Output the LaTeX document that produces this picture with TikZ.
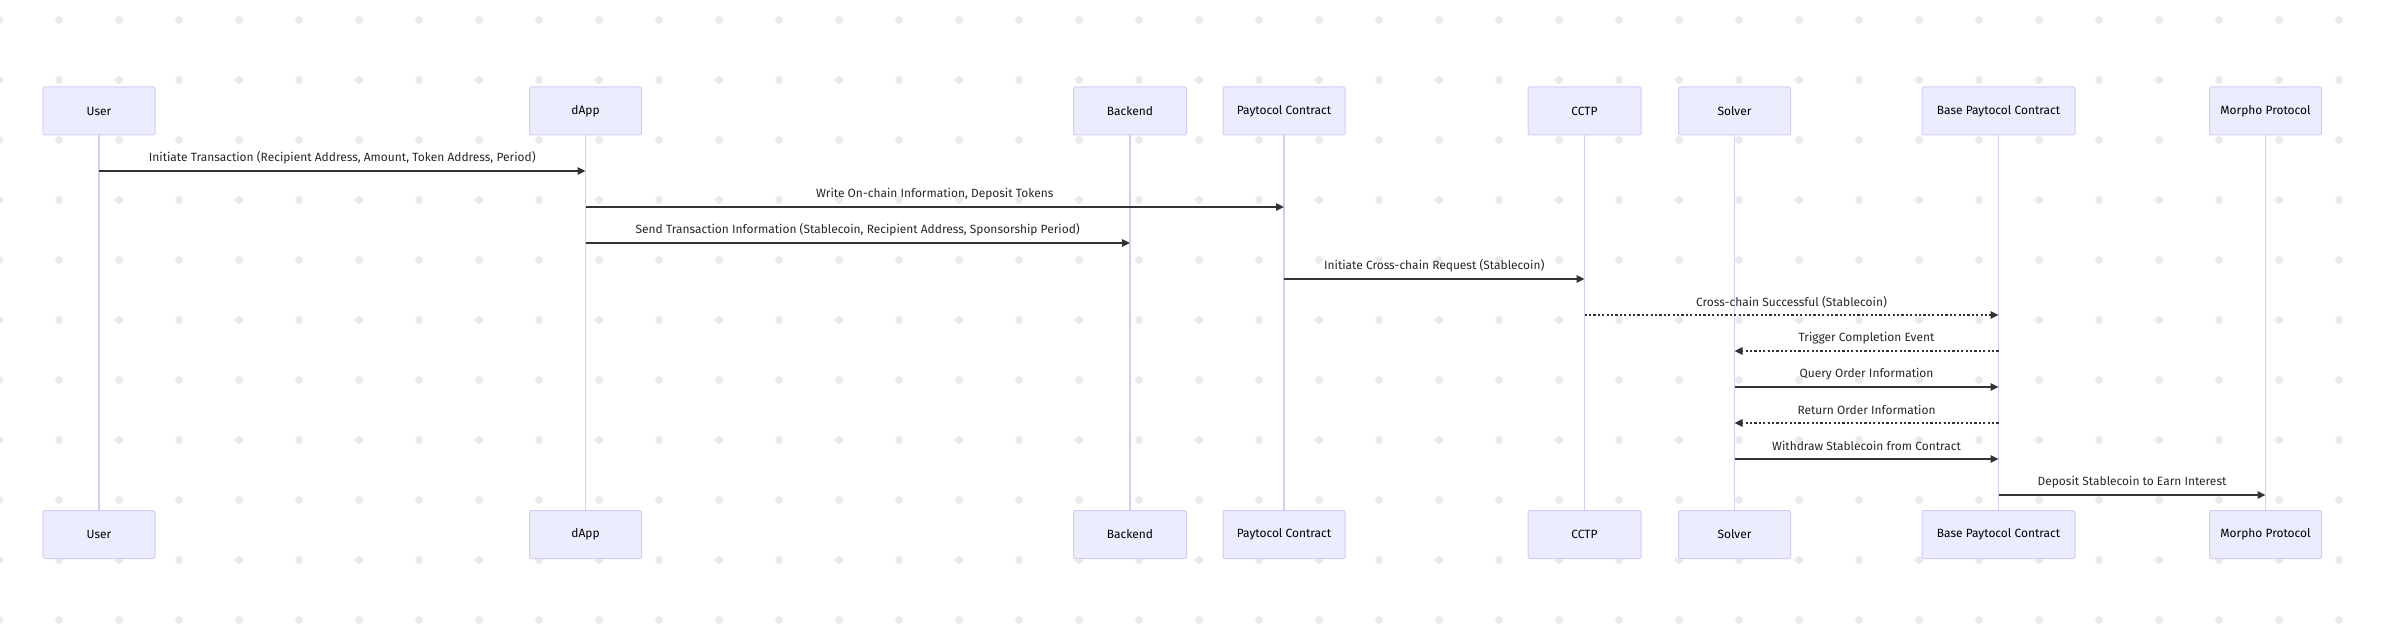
\documentclass[tikz,border=0pt]{standalone}
\usepackage{fontspec}
\setmainfont{Fira Sans}
\usetikzlibrary{arrows.meta}
\definecolor{actfill}{HTML}{ECECFF}
\definecolor{actline}{HTML}{D6CCF3}
\definecolor{msgcol}{HTML}{333333}
\definecolor{dotcol}{HTML}{EBEBEB}
\tikzset{
  actor/.style={draw=actline, fill=actfill, line width=1bp, rounded corners=2bp,
    minimum height=48bp, inner sep=0pt, font=\fontsize{12}{14}\selectfont, text=black},
  lifeline/.style={draw=actline, line width=1.5bp},
  msg/.style={draw=msgcol, line width=1.4bp, -{Triangle[length=8bp,width=7.5bp]}},
  reply/.style={msg, dash pattern=on 2.2bp off 2.2bp},
  mlabel/.style={midway, yshift=13bp, inner sep=0pt, font=\fontsize{12}{14}\selectfont, text=black!85}
}
\begin{document}
\begin{tikzpicture}[x=1bp,y=-1bp]
\useasboundingbox (0,0) rectangle (2392,628);
% dotted background
\foreach \i in {0,...,40}{
  \foreach \j in {0,...,10}{
    \fill[dotcol] ({-1+60*\i},{20+60*\j}) circle[radius=4bp];
  }
}
% actors top
\node[actor, minimum width=112bp] (userT) at (99,111) {User};
\node[actor, minimum width=112bp] (dappT) at (585.5,111) {dApp};
\node[actor, minimum width=113bp] (backT) at (1130,111) {Backend};
\node[actor, minimum width=122bp] (payT) at (1284,111) {Paytocol Contract};
\node[actor, minimum width=113bp] (cctpT) at (1584.5,111) {CCTP};
\node[actor, minimum width=112bp] (solvT) at (1734.5,111) {Solver};
\node[actor, minimum width=153bp] (baseT) at (1998.5,111) {Base Paytocol Contract};
\node[actor, minimum width=112bp] (morT) at (2265.5,111) {Morpho Protocol};
% actors bottom
\node[actor, minimum width=112bp] (userB) at (99,534.5) {User};
\node[actor, minimum width=112bp] (dappB) at (585.5,534.5) {dApp};
\node[actor, minimum width=113bp] (backB) at (1130,534.5) {Backend};
\node[actor, minimum width=122bp] (payB) at (1284,534.5) {Paytocol Contract};
\node[actor, minimum width=113bp] (cctpB) at (1584.5,534.5) {CCTP};
\node[actor, minimum width=112bp] (solvB) at (1734.5,534.5) {Solver};
\node[actor, minimum width=153bp] (baseB) at (1998.5,534.5) {Base Paytocol Contract};
\node[actor, minimum width=112bp] (morB) at (2265.5,534.5) {Morpho Protocol};
% lifelines
\foreach \a in {user,dapp,back,pay,cctp,solv,base,mor}{
  \draw[lifeline] (\a T.south) -- (\a B.north);
}
% message rows
\coordinate (r1) at (0,171);
\coordinate (r2) at (0,207);
\coordinate (r3) at (0,243);
\coordinate (r4) at (0,279);
\coordinate (r5) at (0,315);
\coordinate (r6) at (0,351);
\coordinate (r7) at (0,387);
\coordinate (r8) at (0,423);
\coordinate (r9) at (0,459);
\coordinate (r10) at (0,495);
\draw[msg] (userT |- r1) -- (dappT |- r1) node[mlabel] {Initiate Transaction (Recipient Address, Amount, Token Address, Period)};
\draw[msg] (dappT |- r2) -- (payT |- r2) node[mlabel] {Write On-chain Information, Deposit Tokens};
\draw[msg] (dappT |- r3) -- (backT |- r3) node[mlabel] {Send Transaction Information (Stablecoin, Recipient Address, Sponsorship Period)};
\draw[msg] (payT |- r4) -- (cctpT |- r4) node[mlabel] {Initiate Cross-chain Request (Stablecoin)};
\draw[reply] (cctpT |- r5) -- (baseT |- r5) node[mlabel] {Cross-chain Successful (Stablecoin)};
\draw[reply] (baseT |- r6) -- (solvT |- r6) node[mlabel] {Trigger Completion Event};
\draw[msg] (solvT |- r7) -- (baseT |- r7) node[mlabel] {Query Order Information};
\draw[reply] (baseT |- r8) -- (solvT |- r8) node[mlabel] {Return Order Information};
\draw[msg] (solvT |- r9) -- (baseT |- r9) node[mlabel] {Withdraw Stablecoin from Contract};
\draw[msg] (baseT |- r10) -- (morT |- r10) node[mlabel] {Deposit Stablecoin to Earn Interest};
\end{tikzpicture}
\end{document}
